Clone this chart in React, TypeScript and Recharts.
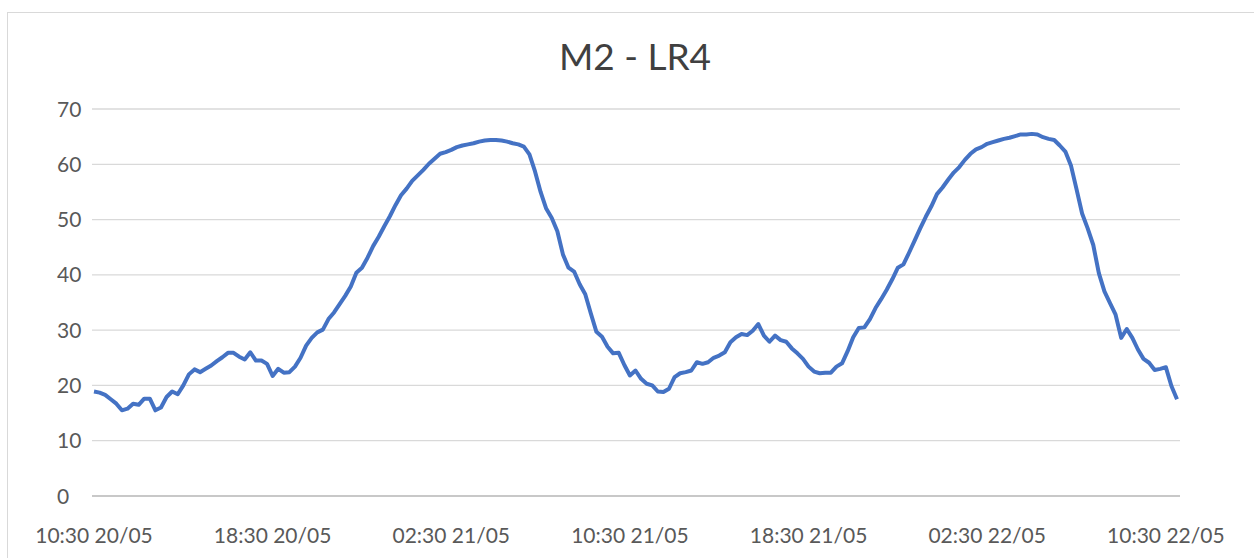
import React from 'react';
import { LineChart, Line, XAxis, YAxis, CartesianGrid } from 'recharts';

const title = 'M2 - LR4';

// one reading every 15 minutes, starting 10:30 20/05
const values = [
  18.9, 18.7, 18.3, 17.5, 16.7, 15.5, 15.8, 16.7, 16.5, 17.6,
  17.6, 15.5, 16.0, 17.9, 18.9, 18.4, 20.0, 22.0, 22.9, 22.4,
  23.0, 23.6, 24.4, 25.1, 25.9, 25.9, 25.2, 24.7, 26.0, 24.5,
  24.5, 23.9, 21.7, 23.0, 22.3, 22.4, 23.4, 25.0, 27.2, 28.6,
  29.6, 30.1, 32.0, 33.2, 34.7, 36.2, 37.9, 40.4, 41.3, 43.1,
  45.2, 46.9, 48.8, 50.6, 52.6, 54.4, 55.6, 57.0, 58.0, 59.0,
  60.1, 61.0, 61.9, 62.2, 62.6, 63.1, 63.4, 63.6, 63.8, 64.1,
  64.3, 64.4, 64.4, 64.3, 64.1, 63.8, 63.6, 63.2, 61.8, 58.7,
  55.0, 52.0, 50.3, 47.9, 43.7, 41.3, 40.6, 38.3, 36.5, 33.0,
  29.7, 28.8, 27.0, 25.8, 25.9, 23.7, 21.8, 22.7, 21.2, 20.3,
  20.0, 18.9, 18.8, 19.4, 21.5, 22.2, 22.4, 22.7, 24.2, 23.9,
  24.2, 25.0, 25.4, 26.0, 27.8, 28.7, 29.3, 29.1, 29.9, 31.1,
  29.0, 27.9, 29.0, 28.2, 27.9, 26.7, 25.8, 24.8, 23.4, 22.5,
  22.2, 22.3, 22.3, 23.4, 24.0, 26.2, 28.7, 30.4, 30.5, 32.0,
  34.0, 35.6, 37.3, 39.2, 41.3, 41.9, 44.0, 46.2, 48.4, 50.5,
  52.4, 54.6, 55.8, 57.2, 58.5, 59.5, 60.8, 61.9, 62.7, 63.1,
  63.7, 64.0, 64.3, 64.6, 64.8, 65.1, 65.4, 65.4, 65.5, 65.4,
  64.9, 64.6, 64.4, 63.4, 62.3, 59.8, 55.5, 51.1, 48.4, 45.4,
  40.3, 37.0, 34.9, 32.8, 28.6, 30.2, 28.6, 26.5, 24.8, 24.1,
  22.8, 23.0, 23.3, 19.9, 17.5,
];

// a label every 8 hours (32 readings)
const xTickIndex = [0, 32, 64, 96, 128, 160, 192];
const xTickLabels = [
  '10:30 20/05',
  '18:30 20/05',
  '02:30 21/05',
  '10:30 21/05',
  '18:30 21/05',
  '02:30 22/05',
  '10:30 22/05',
];
const yTicks = [0, 10, 20, 30, 40, 50, 60, 70];

const data = values.map((v, i) => ({ i, v }));

const FONT = 'Lato, "Open Sans", sans-serif';
const TEXT = '#595959';

function XTick({ x, y, payload }: any) {
  const k = xTickIndex.indexOf(payload.value);
  return (
    <text x={x} y={y} dy={47} textAnchor="middle" fill={TEXT} fontSize={21} fontFamily={FONT}>
      {xTickLabels[k]}
    </text>
  );
}

function YTick({ x, y, payload }: any) {
  return (
    <text x={x - 35} y={y} dy={7.5} textAnchor="start" fill={TEXT} fontSize={21} fontFamily={FONT}>
      {payload.value}
    </text>
  );
}

export default function App() {
  return (
    <div style={{ position: 'absolute', left: 0, top: 0, width: 1254, height: 558, overflow: 'hidden', background: '#fff' }}>
      {/* chart area frame */}
      <div style={{ position: 'absolute', left: 7, top: 12, width: 1300, height: 600, border: '1px solid #d9d9d9' }} />
      <svg width={1254} height={558} style={{ position: 'absolute', left: 0, top: 0 }}>
        <text x={635} y={70} textAnchor="middle" fill="#404040" fontSize={37} fontFamily={FONT}>
          {title}
        </text>
      </svg>
      <div style={{ position: 'absolute', left: 0, top: 0 }}>
        <LineChart width={1254} height={558} data={data} margin={{ top: 109, right: 74, bottom: 0, left: 0 }}>
          <CartesianGrid vertical={false} stroke="#d9d9d9" strokeWidth={1.3} />
          <XAxis
            dataKey="i"
            type="number"
            domain={[0, 194]}
            ticks={xTickIndex}
            padding={{ left: 2, right: 3 }}
            height={62}
            tickSize={0}
            tickMargin={0}
            tickLine={false}
            axisLine={{ stroke: '#bfbfbf', strokeWidth: 1.3 }}
            tick={XTick}
            interval={0}
          />
          <YAxis
            domain={[0, 70]}
            ticks={yTicks}
            width={92}
            tickSize={0}
            tickMargin={0}
            axisLine={false}
            tickLine={false}
            tick={YTick}
            interval={0}
          />
          <Line
            type="linear"
            dataKey="v"
            stroke="#4472C4"
            strokeWidth={4}
            strokeLinejoin="round"
            dot={false}
            isAnimationActive={false}
          />
        </LineChart>
      </div>
    </div>
  );
}
